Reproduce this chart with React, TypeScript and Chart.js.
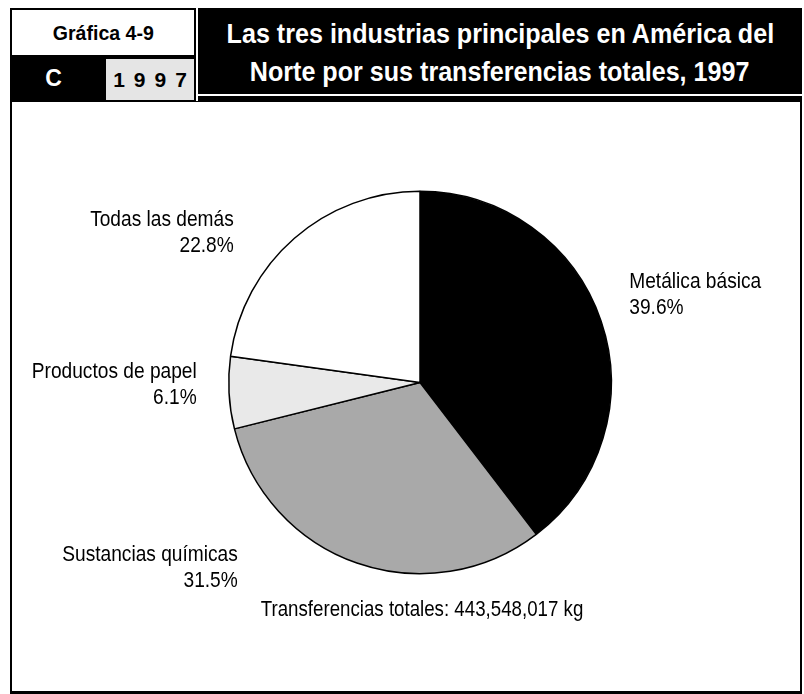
import React, { useEffect, useRef } from "react";
import { Chart, registerables } from "chart.js";

Chart.register(...registerables);

const categories = ["Metálica básica", "Sustancias químicas", "Productos de papel", "Todas las demás"];
const percentages = [39.6, 31.5, 6.1, 22.8];
const percentLabels = ["39.6%", "31.5%", "6.1%", "22.8%"];
const totalLabel = "Transferencias totales: 443,548,017 kg";
const chartNumber = "Gráfica 4-9";
const sectionLetter = "C";
const yearLabel = "1997";
const titleLines = ["Las tres industrias principales en América del", "Norte por sus transferencias totales, 1997"];

const sliceColors = ["#000000", "#a9a9a9", "#e9e9e9", "#ffffff"];

const SANS = "'Liberation Sans', Arial, sans-serif";

// label placement relative to pie centre, in units of radius
const labelLayout = [
  { dx: 209 / 191, dy: -100.5 / 191, align: "left" },
  { dx: -182 / 191, dy: 172.5 / 191, align: "right" },
  { dx: -223 / 191, dy: -10.5 / 191, align: "right" },
  { dx: -186 / 191, dy: -162.5 / 191, align: "right" },
];

function narrowText(ctx: any, text: string, x: number, y: number, sx: number) {
  ctx.save();
  ctx.translate(x, y);
  ctx.scale(sx, 1);
  ctx.fillText(text, 0, 0);
  ctx.restore();
}

const labelPlugin = {
  id: "sliceLabels",
  afterDraw(chart: any) {
    const meta = chart.getDatasetMeta(0);
    const arc = meta.data[0];
    if (!arc) return;
    const { x, y, outerRadius } = arc.getProps(["x", "y", "outerRadius"], true);
    const r = outerRadius;
    const ctx = chart.ctx;
    ctx.save();
    ctx.fillStyle = "#000";
    ctx.font = `22px ${SANS}`;
    ctx.textBaseline = "middle";
    categories.forEach((c, i) => {
      const l = labelLayout[i];
      const lx = x + l.dx * r;
      const ly = y + l.dy * r;
      ctx.textAlign = l.align;
      narrowText(ctx, c, lx, ly, 0.87);
      narrowText(ctx, percentLabels[i], lx, ly + 26, 0.87);
    });
    ctx.textAlign = "center";
    narrowText(ctx, totalLabel, x + 2, y + r * (227.5 / 191), 0.85);
    ctx.restore();
  },
};

function PieChart() {
  const ref = useRef<HTMLCanvasElement | null>(null);
  useEffect(() => {
    if (!ref.current) return;
    const chart = new Chart(ref.current, {
      type: "pie",
      data: {
        labels: categories,
        datasets: [
          {
            data: percentages,
            backgroundColor: sliceColors,
            borderColor: "#000",
            borderWidth: 1.5,
          },
        ],
      },
      options: {
        responsive: false,
        animation: false,
        devicePixelRatio: 1,
        layout: { padding: { left: 216, right: 187, top: 88.5, bottom: 115.5 } },
        plugins: { legend: { display: false }, tooltip: { enabled: false } },
      },
      plugins: [labelPlugin],
    });
    return () => chart.destroy();
  }, []);
  return (
    <canvas
      ref={ref}
      width={787}
      height={588}
      style={{ position: "absolute", left: 12, top: 102, width: 787, height: 588 }}
    />
  );
}

export default function App() {
  const abs = (l: number, t: number, w: number, h: number, extra: any = {}) => ({
    position: "absolute" as const,
    left: l,
    top: t,
    width: w,
    height: h,
    boxSizing: "border-box" as const,
    ...extra,
  });
  const squeeze = (sx: number) => ({ display: "inline-block", transform: `scaleX(${sx})`, whiteSpace: "nowrap" as const });
  return (
    <div style={{ position: "absolute", left: 0, top: 0, width: 804, height: 694, background: "#fff", overflow: "hidden" }}>
      <div style={abs(10, 8, 186, 94, { background: "#000" })} />
      <div
        style={abs(12, 10, 182, 45, {
          background: "#fff",
          display: "flex",
          alignItems: "center",
          justifyContent: "center",
          font: `bold 21px ${SANS}`,
          color: "#000",
        })}
      >
        <span style={squeeze(0.93)}>{chartNumber}</span>
      </div>
      <div
        style={abs(12, 57, 92, 43, {
          display: "flex",
          alignItems: "center",
          justifyContent: "center",
          font: `bold 23px ${SANS}`,
          color: "#fff",
          paddingRight: 9,
        })}
      >
        {sectionLetter}
      </div>
      <div
        style={abs(106, 59, 88, 41, {
          background: "#e5e5e5",
          display: "flex",
          alignItems: "center",
          justifyContent: "center",
          font: `bold 21px ${SANS}`,
          letterSpacing: 9,
          paddingLeft: 9,
          color: "#000",
        })}
      >
        {yearLabel}
      </div>
      <div
        style={abs(198, 8, 604, 86, {
          background: "#000",
          color: "#fff",
          display: "flex",
          flexDirection: "column",
          alignItems: "center",
          justifyContent: "center",
          font: `bold 27px ${SANS}`,
          lineHeight: "38px",
          paddingTop: 4,
        })}
      >
        {titleLines.map((t) => (
          <div key={t}>
            <span style={squeeze(0.93)}>{t}</span>
          </div>
        ))}
      </div>
      <div style={abs(198, 96, 604, 5, { background: "#000" })} />
      <div
        style={abs(10, 101, 792, 593, {
          borderLeft: "2px solid #000",
          borderRight: "2px solid #000",
          borderTop: "1px solid #000",
          borderBottom: "3px solid #000",
        })}
      />
      <PieChart />
    </div>
  );
}
